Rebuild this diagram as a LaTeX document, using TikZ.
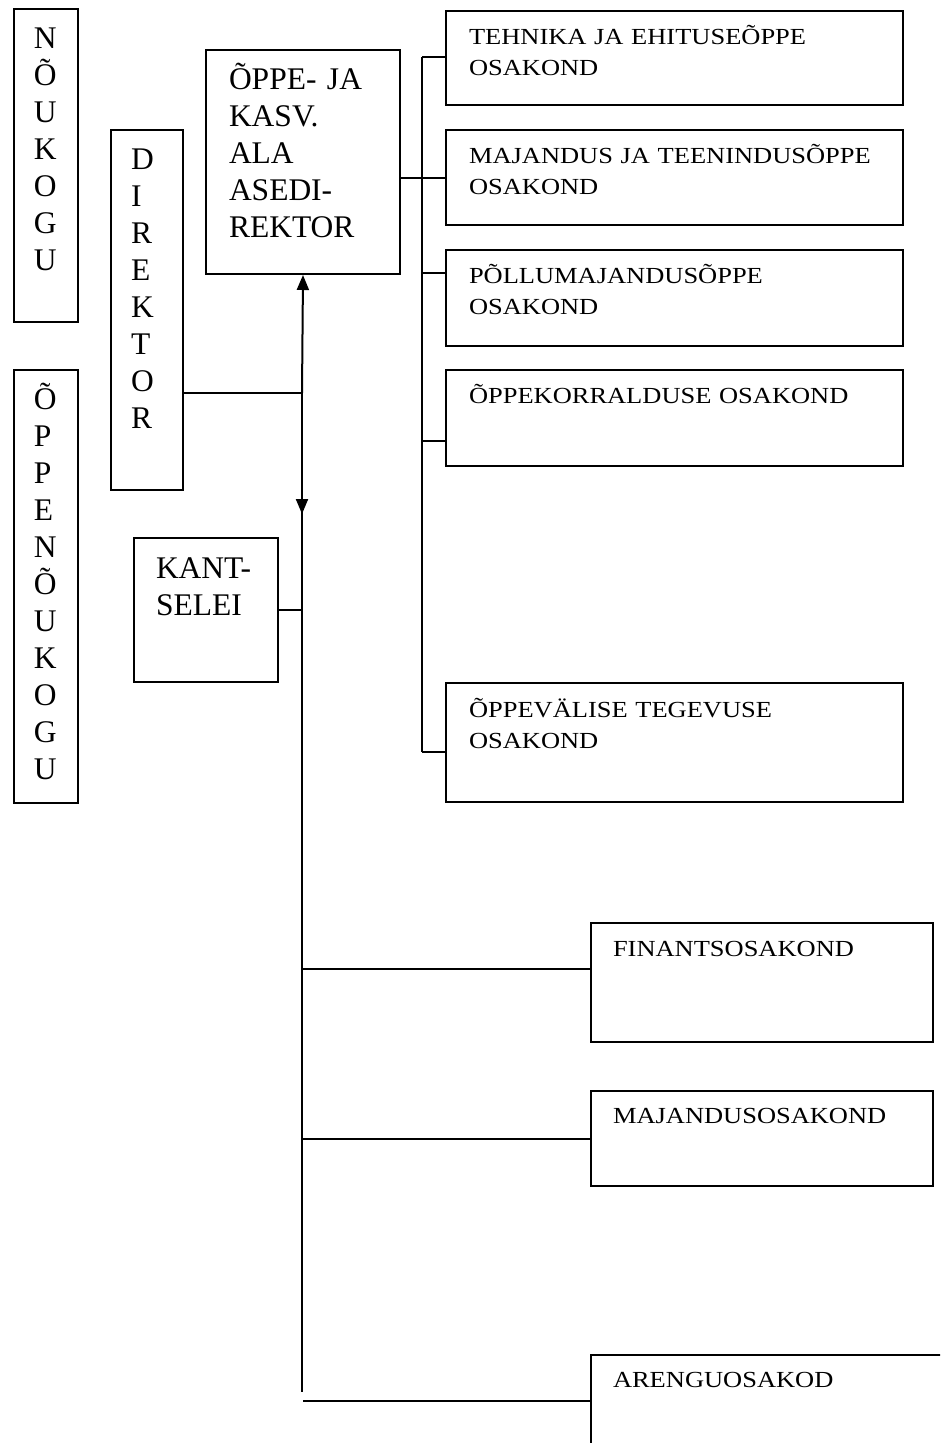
\documentclass[tikz,border=0pt]{standalone}
\usepackage{fontspec}
\setmainfont{Liberation Serif}
\newfontfamily\widefont[FakeStretch=1.15]{Liberation Serif}
\usetikzlibrary{arrows.meta}
\begin{document}
\begin{tikzpicture}[x=1pt,y=-1pt,line width=2pt,
  box/.style={draw,line width=2pt,inner ysep=0pt,anchor=north west,align=left},
  big/.style={box,font=\fontsize{31.5}{37}\selectfont},
  vert/.style={big,inner xsep=20pt},
  rbox/.style={box,font=\widefont\fontsize{23}{31}\selectfont,inner xsep=23pt,text width=411pt},
  lbox/.style={box,font=\widefont\fontsize{23}{31}\selectfont,inner xsep=22pt,text width=298pt},
  arr/.style={-{Triangle[length=15pt,width=12pt]}}]
\useasboundingbox (0,0) rectangle (940,1443);
\clip (0,0) rectangle (940,1443);
\fill[white] (0,0) rectangle (940,1443);

% left column
\node[vert,text width=24pt,text height=39pt,text depth=274pt] (noukogu) at (13,8)
  {N\\Õ\\U\\K\\O\\G\\U};
\node[vert,text width=24pt,text height=39pt,text depth=394pt] (oppenoukogu) at (13,369)
  {Õ\\P\\P\\E\\N\\Õ\\U\\K\\O\\G\\U};
\node[vert,text width=32pt,text height=39pt,text depth=321pt] (direktor) at (110,129)
  {D\\I\\R\\E\\K\\T\\O\\R};
\node[big,inner xsep=23pt,text width=148pt,text height=39pt,text depth=185pt] (oppe) at (205,49)
  {ÕPPE- JA\\KASV.\\ALA\\ASEDI-\\REKTOR};
\node[big,inner xsep=22pt,text width=100pt,text height=40pt,text depth=104pt] (kants) at (133,537)
  {KANT-\\SELEI};

% right column (departments)
\node[rbox,text height=33pt,text depth=61pt] (tehnika) at (445,10) {TEHNIKA JA EHITUSEÕPPE\\OSAKOND};
\node[rbox,text height=33pt,text depth=62pt] (majteen) at (445,129) {MAJANDUS JA TEENINDUSÕPPE\\OSAKOND};
\node[rbox,text height=33pt,text depth=63pt] (pollu) at (445,249) {PÕLLUMAJANDUSÕPPE\\OSAKOND};
\node[rbox,text height=33pt,text depth=63pt] (oppekorr) at (445,369) {ÕPPEKORRALDUSE OSAKOND};
\node[rbox,text height=34pt,text depth=85pt] (oppevalise) at (445,682) {ÕPPEVÄLISE TEGEVUSE\\OSAKOND};

% lower right
\node[lbox,text height=33pt,text depth=86pt] (finants) at (590,922) {FINANTSOSAKOND};
\node[lbox,text height=32pt,text depth=63pt] (majandus) at (590,1090) {MAJANDUSOSAKOND};
\node[lbox,text width=400pt,text height=32pt,text depth=150pt] (arengu) at (590,1354) {ARENGUOSAKOD};

% bus to departments
\coordinate (b1) at (422,57);
\coordinate (b3) at (422,273);
\coordinate (b4) at (422,441);
\coordinate (b5) at (422,752);
\draw (b1) -- (b5);
\draw (b1) -- (tehnika.west |- b1);
\draw (oppe.east |- majteen.west) -- (majteen.west);
\draw (b3) -- (pollu.west |- b3);
\draw (b4) -- (oppekorr.west |- b4);
\draw (b5) -- (oppevalise.west |- b5);

% main vertical
\coordinate (jd) at (302,393);
\coordinate (dn) at (302,514);
\coordinate (vend) at (302,1392);
\coordinate (fy) at (302,969);
\coordinate (ay) at (303,1401);
\draw (jd) -- (vend);
\draw[arr] (jd) -- (oppe.south);
\draw[arr] (jd) -- (dn);
\draw (direktor.east |- jd) -- (jd);
\draw (kants.east) -- (kants.east -| jd);
\draw (fy) -- (finants.west |- fy);
\draw (majandus.west -| jd) -- (majandus.west);
\draw (ay) -- (arengu.west |- ay);
\end{tikzpicture}
\end{document}
